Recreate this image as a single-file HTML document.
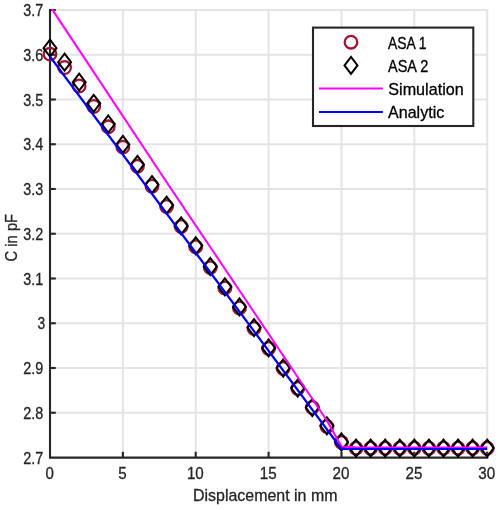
<!DOCTYPE html>
<html><head><meta charset="utf-8"><title>Plot</title>
<style>html,body{margin:0;padding:0;background:#fff}svg{display:block}text{font-family:"Liberation Sans",sans-serif;font-size:16.6px;fill:#262626;stroke:#262626;stroke-width:0.3px}.tk text{font-size:16px}.tk text.yt{font-size:15.7px}.lg text{fill:#000;stroke:#000}</style>
</head><body>
<svg width="500" height="510" viewBox="0 0 500 510">
<rect width="500" height="510" fill="#fff"/>
<g stroke="#e4e4e4" stroke-width="2" fill="none">
<line x1="122.87" y1="10" x2="122.87" y2="457.5"/>
<line x1="195.73" y1="10" x2="195.73" y2="457.5"/>
<line x1="268.60" y1="10" x2="268.60" y2="457.5"/>
<line x1="341.46" y1="10" x2="341.46" y2="457.5"/>
<line x1="414.32" y1="10" x2="414.32" y2="457.5"/>
<line x1="487.19" y1="10" x2="487.19" y2="457.5"/>
<line x1="50" y1="10.00" x2="487.2" y2="10.00"/>
<line x1="50" y1="54.75" x2="487.2" y2="54.75"/>
<line x1="50" y1="99.50" x2="487.2" y2="99.50"/>
<line x1="50" y1="144.25" x2="487.2" y2="144.25"/>
<line x1="50" y1="189.00" x2="487.2" y2="189.00"/>
<line x1="50" y1="233.75" x2="487.2" y2="233.75"/>
<line x1="50" y1="278.50" x2="487.2" y2="278.50"/>
<line x1="50" y1="323.25" x2="487.2" y2="323.25"/>
<line x1="50" y1="368.00" x2="487.2" y2="368.00"/>
<line x1="50" y1="412.75" x2="487.2" y2="412.75"/>
</g>
<g stroke="#262626" stroke-width="2.1" fill="none">
<path d="M50 8.95V457.6H488.25"/>
<line x1="122.87" y1="457.5" x2="122.87" y2="451.8"/>
<line x1="195.73" y1="457.5" x2="195.73" y2="451.8"/>
<line x1="268.60" y1="457.5" x2="268.60" y2="451.8"/>
<line x1="341.46" y1="457.5" x2="341.46" y2="451.8"/>
<line x1="414.32" y1="457.5" x2="414.32" y2="451.8"/>
<line x1="487.19" y1="457.5" x2="487.19" y2="451.8"/>
<line x1="50" y1="10.00" x2="55.8" y2="10.00"/>
<line x1="50" y1="54.75" x2="55.8" y2="54.75"/>
<line x1="50" y1="99.50" x2="55.8" y2="99.50"/>
<line x1="50" y1="144.25" x2="55.8" y2="144.25"/>
<line x1="50" y1="189.00" x2="55.8" y2="189.00"/>
<line x1="50" y1="233.75" x2="55.8" y2="233.75"/>
<line x1="50" y1="278.50" x2="55.8" y2="278.50"/>
<line x1="50" y1="323.25" x2="55.8" y2="323.25"/>
<line x1="50" y1="368.00" x2="55.8" y2="368.00"/>
<line x1="50" y1="412.75" x2="55.8" y2="412.75"/>
</g>
<defs><clipPath id="c"><rect x="49.2" y="9" width="446" height="452"/></clipPath></defs>
<g fill="none" stroke="#a2142f" stroke-width="2.3">
<circle cx="50.00" cy="54.1" r="6.3"/>
<circle cx="64.57" cy="67.5" r="6.3"/>
<circle cx="79.15" cy="86.0" r="6.3"/>
<circle cx="93.72" cy="106.5" r="6.3"/>
<circle cx="108.29" cy="126.8" r="6.3"/>
<circle cx="122.87" cy="147.1" r="6.3"/>
<circle cx="137.44" cy="166.3" r="6.3"/>
<circle cx="152.01" cy="186.2" r="6.3"/>
<circle cx="166.58" cy="206.5" r="6.3"/>
<circle cx="181.16" cy="226.4" r="6.3"/>
<circle cx="195.73" cy="246.7" r="6.3"/>
<circle cx="210.30" cy="267.6" r="6.3"/>
<circle cx="224.88" cy="287.9" r="6.3"/>
<circle cx="239.45" cy="307.9" r="6.3"/>
<circle cx="254.02" cy="328.4" r="6.3"/>
<circle cx="268.60" cy="348.4" r="6.3"/>
<circle cx="283.17" cy="368.4" r="6.3"/>
<circle cx="297.74" cy="388.4" r="6.3"/>
<circle cx="312.31" cy="407.5" r="6.3"/>
<circle cx="326.89" cy="426.4" r="6.3"/>
<circle cx="341.46" cy="442.3" r="6.3"/>
<circle cx="356.03" cy="448.2" r="6.3"/>
<circle cx="370.61" cy="448.2" r="6.3"/>
<circle cx="385.18" cy="448.2" r="6.3"/>
<circle cx="399.75" cy="448.2" r="6.3"/>
<circle cx="414.32" cy="448.2" r="6.3"/>
<circle cx="428.90" cy="448.2" r="6.3"/>
<circle cx="443.47" cy="448.2" r="6.3"/>
<circle cx="458.04" cy="448.2" r="6.3"/>
<circle cx="472.62" cy="448.2" r="6.3"/>
<circle cx="487.19" cy="448.2" r="6.3"/>
</g>
<g fill="none" stroke="#000" stroke-width="2" stroke-linejoin="miter">
<path d="M50.00 39.7L56.50 48.2L50.00 56.7L43.50 48.2Z"/>
<path d="M64.57 53.7L71.07 62.2L64.57 70.7L58.07 62.2Z"/>
<path d="M79.15 73.7L85.65 82.2L79.15 90.7L72.65 82.2Z"/>
<path d="M93.72 94.8L100.22 103.3L93.72 111.8L87.22 103.3Z"/>
<path d="M108.29 115.5L114.79 124.0L108.29 132.5L101.79 124.0Z"/>
<path d="M122.87 135.9L129.37 144.4L122.87 152.9L116.37 144.4Z"/>
<path d="M137.44 155.9L143.94 164.4L137.44 172.9L130.94 164.4Z"/>
<path d="M152.01 176.1L158.51 184.6L152.01 193.1L145.51 184.6Z"/>
<path d="M166.58 196.7L173.08 205.2L166.58 213.7L160.08 205.2Z"/>
<path d="M181.16 217.4L187.66 225.9L181.16 234.4L174.66 225.9Z"/>
<path d="M195.73 237.3L202.23 245.8L195.73 254.3L189.23 245.8Z"/>
<path d="M210.30 258.0L216.80 266.5L210.30 275.0L203.80 266.5Z"/>
<path d="M224.88 278.3L231.38 286.8L224.88 295.3L218.38 286.8Z"/>
<path d="M239.45 298.4L245.95 306.9L239.45 315.4L232.95 306.9Z"/>
<path d="M254.02 319.1L260.52 327.6L254.02 336.1L247.52 327.6Z"/>
<path d="M268.60 339.4L275.10 347.9L268.60 356.4L262.10 347.9Z"/>
<path d="M283.17 359.5L289.67 368.0L283.17 376.5L276.67 368.0Z"/>
<path d="M297.74 379.6L304.24 388.1L297.74 396.6L291.24 388.1Z"/>
<path d="M312.31 399.0L318.81 407.5L312.31 416.0L305.81 407.5Z"/>
<path d="M326.89 417.3L333.39 425.8L326.89 434.3L320.39 425.8Z"/>
<path d="M341.46 433.5L347.96 442.0L341.46 450.5L334.96 442.0Z"/>
<path d="M356.03 439.6L362.53 448.1L356.03 456.6L349.53 448.1Z"/>
<path d="M370.61 439.6L377.11 448.1L370.61 456.6L364.11 448.1Z"/>
<path d="M385.18 439.6L391.68 448.1L385.18 456.6L378.68 448.1Z"/>
<path d="M399.75 439.6L406.25 448.1L399.75 456.6L393.25 448.1Z"/>
<path d="M414.32 439.6L420.82 448.1L414.32 456.6L407.82 448.1Z"/>
<path d="M428.90 439.6L435.40 448.1L428.90 456.6L422.40 448.1Z"/>
<path d="M443.47 439.6L449.97 448.1L443.47 456.6L436.97 448.1Z"/>
<path d="M458.04 439.6L464.54 448.1L458.04 456.6L451.54 448.1Z"/>
<path d="M472.62 439.6L479.12 448.1L472.62 456.6L466.12 448.1Z"/>
<path d="M487.19 439.6L493.69 448.1L487.19 456.6L480.69 448.1Z"/>
</g>
<g clip-path="url(#c)" fill="none" stroke-width="2.15" stroke-linejoin="round">
<path stroke="#ff00ff" d="M50 6.0L166.58 182.0L326.89 420.5L341.5 446.5L356.03 447.3L370.61 447.5L487.2 447.5"/>
<path stroke="#0000ff" d="M50 56.5L341.5 449L487.2 449"/>
</g>
<g class="tk">
<text class="yt" x="23.2" y="16.10" textLength="20" lengthAdjust="spacingAndGlyphs">3.7</text>
<text class="yt" x="23.2" y="60.85" textLength="20" lengthAdjust="spacingAndGlyphs">3.6</text>
<text class="yt" x="23.2" y="105.60" textLength="20" lengthAdjust="spacingAndGlyphs">3.5</text>
<text class="yt" x="23.2" y="150.35" textLength="20" lengthAdjust="spacingAndGlyphs">3.4</text>
<text class="yt" x="23.2" y="195.10" textLength="20" lengthAdjust="spacingAndGlyphs">3.3</text>
<text class="yt" x="23.2" y="239.85" textLength="20" lengthAdjust="spacingAndGlyphs">3.2</text>
<text class="yt" x="23.2" y="284.60" textLength="20" lengthAdjust="spacingAndGlyphs">3.1</text>
<text class="yt" x="37.5" y="329.35" textLength="7.7" lengthAdjust="spacingAndGlyphs">3</text>
<text class="yt" x="23.2" y="374.10" textLength="20" lengthAdjust="spacingAndGlyphs">2.9</text>
<text class="yt" x="23.2" y="418.85" textLength="20" lengthAdjust="spacingAndGlyphs">2.8</text>
<text class="yt" x="23.2" y="463.60" textLength="20" lengthAdjust="spacingAndGlyphs">2.7</text>
<text x="49.60" y="479" text-anchor="middle" textLength="8.4" lengthAdjust="spacingAndGlyphs">0</text>
<text x="122.47" y="479" text-anchor="middle" textLength="8.4" lengthAdjust="spacingAndGlyphs">5</text>
<text x="195.33" y="479" text-anchor="middle" textLength="16.9" lengthAdjust="spacingAndGlyphs">10</text>
<text x="268.20" y="479" text-anchor="middle" textLength="16.9" lengthAdjust="spacingAndGlyphs">15</text>
<text x="341.06" y="479" text-anchor="middle" textLength="16.9" lengthAdjust="spacingAndGlyphs">20</text>
<text x="413.93" y="479" text-anchor="middle" textLength="16.9" lengthAdjust="spacingAndGlyphs">25</text>
<text x="486.79" y="479" text-anchor="middle" textLength="16.9" lengthAdjust="spacingAndGlyphs">30</text>
</g>
<text x="193" y="501" textLength="144.5" lengthAdjust="spacingAndGlyphs">Displacement in mm</text>
<text transform="translate(17.2 261.4) rotate(-90)" textLength="47.5" lengthAdjust="spacingAndGlyphs">C in pF</text>
<rect x="313" y="27.6" width="160.3" height="98.4" fill="#fff" stroke="#262626" stroke-width="2.1"/>
<circle cx="351" cy="42.2" r="6.3" fill="none" stroke="#a2142f" stroke-width="2.3"/>
<path fill="none" stroke="#000" stroke-width="2" d="M351.00 56.9L357.50 65.4L351.00 73.9L344.50 65.4Z"/>
<line x1="319" y1="88.5" x2="382.9" y2="88.5" stroke="#ff00ff" stroke-width="2"/>
<line x1="319" y1="112.1" x2="382.9" y2="112.1" stroke="#0000ff" stroke-width="2"/>
<g class="lg">
<text x="388" y="48.8" textLength="38.6" lengthAdjust="spacingAndGlyphs">ASA 1</text>
<text x="388" y="71.8" textLength="40.3" lengthAdjust="spacingAndGlyphs">ASA 2</text>
<text x="388.3" y="94.8" textLength="75.4" lengthAdjust="spacingAndGlyphs">Simulation</text>
<text x="388" y="117.9" textLength="56.3" lengthAdjust="spacingAndGlyphs">Analytic</text>
</g>
</svg>
</body></html>
